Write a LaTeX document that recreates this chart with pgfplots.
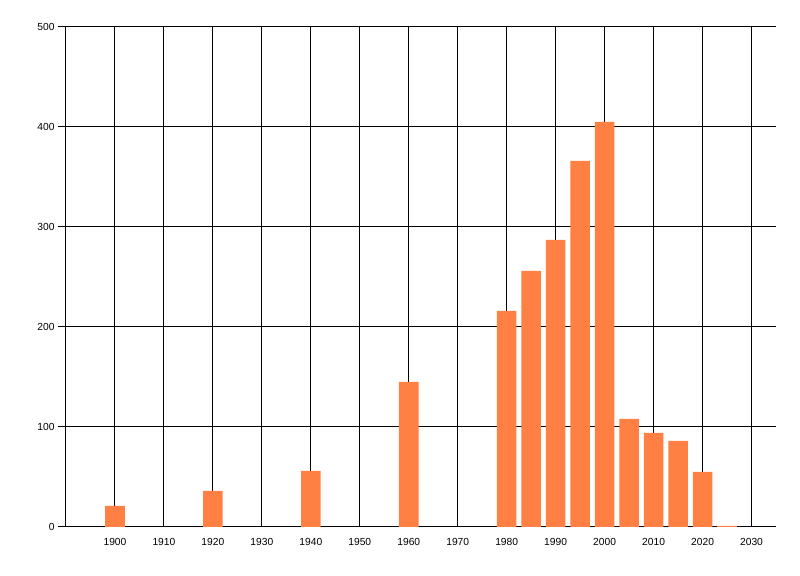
\documentclass[border=0pt]{standalone}
\usepackage{fontspec}
\setmainfont{Liberation Sans}
\usepackage{pgfplots}
\pgfplotsset{compat=1.18}
\definecolor{barorange}{RGB}{255,128,66}
\begin{document}
\begin{tikzpicture}
\begin{axis}[
  scale only axis,
  width=710bp, height=500bp,
  xmin=1890, xmax=2035,
  ymin=0, ymax=500,
  axis lines*=left,
  axis line style={black, line width=1bp},
  xtick={1900,1910,...,2030},
  ytick={0,100,...,500},
  xticklabel style={/pgf/number format/1000 sep={}, font=\fontsize{10.3}{11}\selectfont},
  yticklabel style={font=\fontsize{10.3}{11}\selectfont},
  /pgf/number format/assume math mode=true,
  grid=major,
  major grid style={black, line width=1bp},
  tick align=outside,
  major tick length=8bp,
  xtick style={draw=none},
  ytick style={black, line width=1bp},
  ybar, bar width=4,
  clip=false,
]
\addplot[fill=barorange, draw=none] coordinates {
  (1900,21) (1920,36) (1940,56) (1960,145)
  (1980,216) (1985,256) (1990,287) (1995,366) (2000,405)
  (2005,108) (2010,94) (2015,86) (2020,55) (2025,1)
};
\end{axis}
\pgfresetboundingbox
\path[use as bounding box] ([shift={(-66bp,-49bp)}]current axis.south west) rectangle ([shift={(24bp,27bp)}]current axis.north east);
\end{tikzpicture}
\end{document}
